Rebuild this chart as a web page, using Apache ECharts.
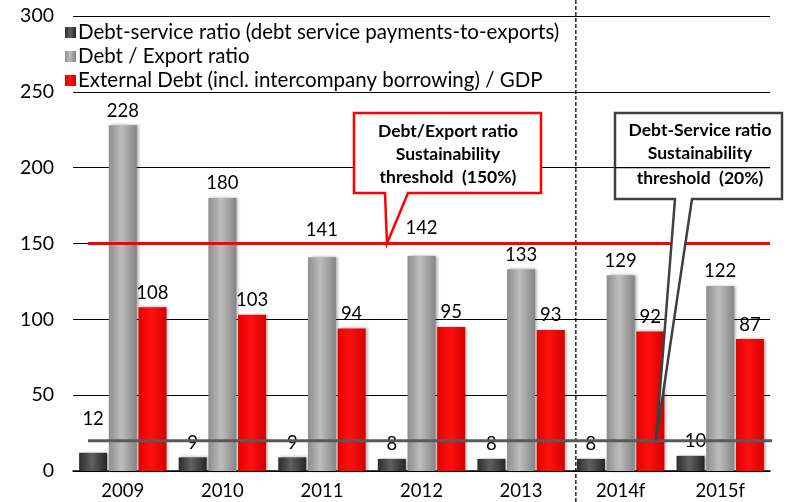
<!DOCTYPE html>
<html>
<head>
<meta charset="utf-8">
<script src="https://cdn.jsdelivr.net/npm/echarts@6/dist/echarts.min.js"></script>
<style>
  html, body { margin: 0; padding: 0; background: #fff; }
  #main { width: 803px; height: 502px; }
</style>
</head>
<body>
<div id="main"></div>
<script>
// Chart data
var years = ['2009', '2010', '2011', '2012', '2013', '2014f', '2015f'];
var debtService = [12, 9, 9, 8, 8, 8, 10];
var debtExport = [228, 180, 141, 142, 133, 129, 122];
var extDebtGdp = [108, 103, 94, 95, 93, 92, 87];
var seriesNames = [
  'Debt-service ratio (debt service payments-to-exports)',
  'Debt / Export ratio',
  'External Debt (incl. intercompany borrowing) / GDP'
];
var exportThreshold = 150;
var serviceThreshold = 20;

var FONT = 'Lato';
var myChart = echarts.init(document.getElementById('main'));

/**
 * @name grad
 * @desc horizontal gradient giving the bars a rounded look
 */
function grad(edge, mid, edge2) {
  return new echarts.graphic.LinearGradient(0, 0, 1, 0, [
    { offset: 0, color: edge },
    { offset: 0.45, color: mid },
    { offset: 1, color: edge2 }
  ]);
}

// per-point label tweaks where the original moves labels off the lines
function withLabels(values, tweaks) {
  return values.map(function (v, i) {
    if (tweaks[i]) {
      return { value: v, label: { offset: tweaks[i] } };
    }
    return v;
  });
}

var labelStyle = {
  show: true,
  position: 'top',
  distance: 5,
  color: '#000',
  fontSize: 18.5,
  fontFamily: FONT
};

var barShadow = {
  shadowBlur: 3,
  shadowColor: 'rgba(0,0,0,0.35)',
  shadowOffsetX: 2,
  shadowOffsetY: 0
};

var option = {
  animation: false,
  textStyle: { fontFamily: FONT },
  grid: { left: 73, right: 33, top: 16, bottom: 31 },
  legend: {
    orient: 'vertical',
    left: 60,
    top: 17,
    itemWidth: 11,
    itemHeight: 11,
    itemGap: 3,
    icon: 'rect',
    textStyle: { fontSize: 20.5, color: '#000', fontFamily: FONT, padding: [0, 0, 0, -3] },
    data: seriesNames
  },
  xAxis: {
    type: 'category',
    data: years,
    axisTick: { show: false },
    axisLine: { show: true, lineStyle: { color: '#000', width: 1.5 } },
    axisLabel: { color: '#000', fontSize: 18.5, margin: 11, fontFamily: FONT }
  },
  yAxis: {
    type: 'value',
    min: 0,
    max: 300,
    interval: 50,
    axisLine: { show: false },
    axisTick: { show: false },
    axisLabel: { color: '#000', fontSize: 19.5, margin: 19, fontFamily: FONT },
    splitLine: { lineStyle: { color: '#000', width: 1.2 } }
  },
  series: [
    {
      name: seriesNames[0],
      type: 'bar',
      barWidth: 28,
      barGap: '6%',
      itemStyle: Object.assign({ color: grad('#2c2c2c', '#606060', '#262626') }, barShadow),
      label: labelStyle,
      data: withLabels(debtService, { 0: [0, -19], 6: [5, 0] })
    },
    {
      name: seriesNames[1],
      type: 'bar',
      barWidth: 28,
      barGap: '6%',
      itemStyle: Object.assign({ color: grad('#8e8e8e', '#bdbdbd', '#858585') }, barShadow),
      label: labelStyle,
      data: withLabels(debtExport, { 2: [0, -13], 3: [0, -13] })
    },
    {
      name: seriesNames[2],
      type: 'bar',
      barWidth: 28,
      barGap: '6%',
      itemStyle: Object.assign({ color: grad('#e40000', '#ff1010', '#d40000') }, barShadow),
      label: labelStyle,
      data: extDebtGdp
    }
  ]
};

myChart.setOption(option);

/**
 * @name addAnnotations
 * @desc threshold lines, forecast divider and callout boxes
 */
function addAnnotations() {
  var yExp = myChart.convertToPixel({ yAxisIndex: 0 }, exportThreshold);
  var ySrv = myChart.convertToPixel({ yAxisIndex: 0 }, serviceThreshold);
  var y200 = myChart.convertToPixel({ yAxisIndex: 0 }, 200);
  var x4 = myChart.convertToPixel({ xAxisIndex: 0 }, years[4]);
  var x5 = myChart.convertToPixel({ xAxisIndex: 0 }, years[5]);
  var xDiv = (x4 + x5) / 2 + 5;

  var boldText = { fontSize: 17.5, fontWeight: 'bold', fontFamily: FONT, fill: '#000', textAlign: 'center' };

  var graphic = [
    // forecast divider
    {
      type: 'line', z: 5,
      shape: { x1: xDiv, y1: 0, x2: xDiv, y2: 502 },
      style: { stroke: '#000', lineWidth: 1.3, lineDash: [4, 2] }
    },
    // export threshold line
    {
      type: 'line', z: 6,
      shape: { x1: 88, y1: yExp, x2: 770, y2: yExp },
      style: { stroke: '#ff0000', lineWidth: 3 }
    },
    // debt service threshold line
    {
      type: 'line', z: 6,
      shape: { x1: 88, y1: ySrv, x2: 772, y2: ySrv },
      style: { stroke: '#595959', lineWidth: 3 }
    },
    // red callout
    {
      type: 'polygon', z: 7,
      shape: { points: [[354, 113], [541, 113], [541, 193], [408, 193], [387, yExp], [385, 193], [354, 193]] },
      style: { fill: '#fff', stroke: '#ff0000', lineWidth: 2.5 }
    },
    { type: 'text', z: 8, x: 448, y: 122, style: Object.assign({ text: 'Debt/Export ratio' }, boldText) },
    { type: 'text', z: 8, x: 448, y: 145, style: Object.assign({ text: 'Sustainability' }, boldText) },
    { type: 'text', z: 8, x: 448, y: 168, style: Object.assign({ text: 'threshold  (150%)' }, boldText) },
    // grey callout
    {
      type: 'polygon', z: 7,
      shape: { points: [[615, 113], [782, 113], [782, 199], [692, 199], [656, ySrv], [675, 199], [615, 199]] },
      style: { fill: '#fff', stroke: '#404040', lineWidth: 2.5 }
    },
    { type: 'text', z: 8, x: 700, y: 121, style: Object.assign({ text: 'Debt-Service ratio' }, boldText) },
    { type: 'text', z: 8, x: 700, y: 144, style: Object.assign({ text: 'Sustainability' }, boldText) },
    { type: 'text', z: 8, x: 700, y: 169, style: Object.assign({ text: 'threshold  (20%)' }, boldText) },
    // gridline at 200 runs over the callout in the original
    {
      type: 'line', z: 9,
      shape: { x1: 615, y1: y200, x2: 770, y2: y200 },
      style: { stroke: '#000', lineWidth: 1.2 }
    }
  ];

  myChart.setOption({ graphic: graphic });
}

addAnnotations();
</script>
</body>
</html>
